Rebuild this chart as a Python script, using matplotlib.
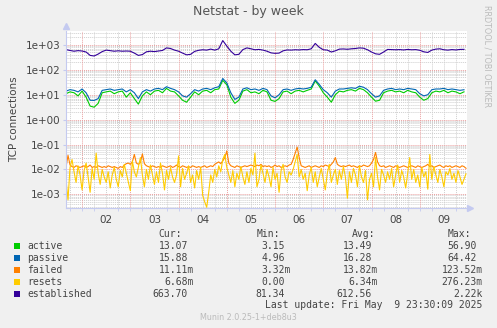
import numpy as np
import matplotlib.pyplot as plt
from matplotlib.patches import Rectangle

W, H = 497, 328

# TCP connection rates, 2-hourly samples starting May 1 16:00 (hours since May 1 00:00)
established = [650, 600, 560, 590, 570, 520, 380, 360, 430, 540,
               620, 590, 560, 580, 560, 570, 560, 470, 380, 410,
               530, 560, 540, 570, 600, 760, 720, 620, 560, 470,
               400, 420, 550, 610, 640, 620, 680, 620, 700, 1500,
               900, 560, 400, 420, 650, 760, 700, 640, 660, 620,
               560, 480, 460, 470, 580, 630, 620, 640, 630, 650,
               640, 700, 1150, 800, 640, 620, 520, 580, 680, 690,
               670, 700, 720, 760, 740, 640, 520, 440, 420, 520,
               660, 650, 640, 650, 630, 660, 640, 650, 610, 530,
               500, 620, 680, 700, 640, 620, 650, 630, 660, 663.70]

active = [11, 13, 12, 9, 14, 8, 3.5, 3.15, 4.5, 12,
          13, 14, 11, 13, 14, 8, 12, 7, 4.2, 9,
          13, 10, 14, 15, 12, 18, 14, 13, 9, 6,
          5, 8, 13, 10, 14, 15, 12, 16, 17, 38,
          25, 8, 4.5, 6, 14, 16, 12, 13, 11, 15,
          13, 6, 5.4, 7, 13, 14, 11, 14, 15, 13,
          15, 17, 36, 22, 12, 8, 5, 10, 14, 13,
          15, 16, 14, 18, 16, 12, 8, 5.5, 6, 12,
          14, 15, 13, 14, 12, 15, 13, 12, 8, 6,
          7, 12, 14, 13, 15, 12, 14, 13, 11, 13.07]

passive = [14, 16, 15, 13, 17, 12, 6, 5.9, 7, 15,
           16, 17, 15, 16, 17, 13, 16, 12, 7, 13,
           16, 14, 17, 18, 16, 21, 18, 16, 13, 9,
           8, 11, 16, 14, 17, 18, 16, 19, 21, 45,
           30, 12, 6.5, 8, 17, 19, 16, 17, 15, 18,
           16, 9, 7.5, 10, 16, 17, 15, 17, 18, 17,
           18, 20, 40, 26, 16, 12, 8, 14, 17, 17,
           18, 19, 18, 22, 20, 16, 11, 8, 9, 15,
           17, 18, 16, 17, 16, 18, 17, 16, 11, 9,
           10, 16, 17, 17, 18, 16, 17, 16, 15, 15.88]

# hourly samples, in milli
failed_m = [12, 37, 15, 13, 12, 14, 13, 12, 13, 14,
            12, 13, 15, 12, 13, 12, 14, 13, 12, 13,
            12, 14, 13, 12, 13, 12, 11, 13, 12, 15,
            17, 18, 16, 20, 40, 18, 16, 19, 42, 17,
            14, 13, 12, 14, 13, 12, 13, 12, 14, 13,
            12, 13, 14, 12, 13, 15, 13, 12, 14, 13,
            12, 13, 12, 14, 13, 12, 13, 12, 13, 14,
            12, 13, 14, 13, 16, 18, 20, 17, 22, 30,
            55, 18, 14, 13, 12, 14, 13, 12, 13, 14,
            13, 14, 15, 14, 13, 15, 14, 16, 13, 14,
            13, 14, 12, 13, 15, 13, 14, 12, 13, 14,
            13, 15, 16, 25, 45, 79, 30, 14, 13, 12,
            13, 14, 12, 13, 14, 13, 12, 14, 13, 15,
            14, 13, 16, 20, 30, 16, 14, 13, 14, 13,
            14, 15, 13, 14, 13, 12, 14, 13, 15, 14,
            13, 14, 18, 25, 48, 20, 14, 13, 14, 12,
            13, 14, 13, 12, 14, 13, 12, 13, 14, 13,
            12, 13, 14, 13, 12, 14, 13, 12, 13, 14,
            16, 13, 14, 12, 13, 14, 15, 13, 12, 14,
            13, 14, 12, 13, 14, 13, 12, 14, 13, 11.11]

resets_m = [4, 0.6, 12, 25, 8, 3, 14, 6, 1.5, 9,
            18, 5, 1.2, 11, 4, 45, 7, 2.5, 10, 5,
            3, 8, 1.8, 6, 12, 4, 2, 9, 5, 16,
            7, 3, 1.4, 22, 8, 5, 12, 30, 6, 2,
            10, 4, 15, 6, 2.5, 8, 3, 18, 7, 1.5,
            9, 4, 12, 5, 3, 6, 35, 2, 11, 4,
            7, 14, 3, 6, 1.8, 9, 4, 12, 0.9, 0.5,
            0.3, 1.2, 6, 3, 10, 5, 14, 8, 25, 40,
            12, 6, 3, 9, 2, 7, 4, 13, 5, 2.5,
            8, 3, 11, 6, 45, 2, 4, 15, 7, 3,
            10, 5, 2, 12, 4, 7, 1.2, 9, 16, 5,
            3, 8, 6, 10, 20, 40, 5, 10, 4, 7,
            1.4, 6, 12, 3, 8, 2, 5, 11, 4, 1.5,
            7, 16, 3, 6, 10, 2.5, 9, 4, 13, 5,
            0.7, 8, 3, 11, 6, 2, 14, 5, 3, 9,
            0.6, 4, 7, 2, 30, 5, 1.5, 10, 6, 3,
            8, 4, 11, 2, 6, 15, 3, 9, 5, 1.8,
            7, 30, 4, 10, 3, 6, 2, 12, 5, 8,
            1.6, 40, 4, 13, 6, 3, 10, 5, 2, 8,
            6, 11, 4, 7, 3, 9, 5, 2.5, 4, 6.68]

day_labels = ['02', '03', '04', '05', '06', '07', '08', '09']

names = ['active', 'passive', 'failed', 'resets', 'established']
colors = ['#00CC00', '#0066B3', '#FF8000', '#FFCC00', '#330099']
cur_txt = ['13.07', '15.88', '11.11m', '6.68m', '663.70']
min_txt = ['3.15', '4.96', '3.32m', '0.00', '81.34']
avg_txt = ['13.49', '16.28', '13.82m', '6.34m', '612.56']
max_txt = ['56.90', '64.42', '123.52m', '276.23m', '2.22k']

t2 = 16 + 2 * np.arange(len(established))
t1 = 16 + np.arange(len(failed_m))
series = [(t2, np.array(active)), (t2, np.array(passive)),
          (t1, np.array(failed_m) * 1e-3), (t1, np.array(resets_m) * 1e-3),
          (t2, np.array(established))]

txt = '#444444'
axcol = '#C4CAF0'
fig = plt.figure(figsize=(W / 100, H / 100), dpi=100, facecolor='#F0F0F0')
ax = fig.add_axes([66 / W, 1 - 208 / H, 401 / W, 177 / H])
ax.set_facecolor('white')
ax.set_yscale('log')
ax.set_xlim(16, 215.5)
ax.set_ylim(10 ** -3.55, 10 ** 3.56)

# grid: gray dotted every 6h / 2..9 per decade, red dotted at midnights / decades
dot = (0, (1, 1))
for h in range(18, 216, 6):
    if h % 24:
        ax.axvline(h, color='#CFCFCF', lw=0.7, ls=dot, zorder=0)
for d in range(-4, 4):
    for k in range(2, 10):
        ax.axhline(k * 10.0 ** d, color='#CFCFCF', lw=0.7, ls=dot, zorder=0)
for h in range(24, 216, 24):
    ax.axvline(h, color='#EBA0A0', lw=0.7, ls=dot, zorder=0)
for d in range(-3, 4):
    ax.axhline(10.0 ** d, color='#EBA0A0', lw=0.7, ls=dot, zorder=0)

for (t, v), c in zip(series, colors):
    ax.plot(t, v, color=c, lw=0.8, zorder=2)

for s in ['top', 'right']:
    ax.spines[s].set_visible(False)
for s in ['left', 'bottom']:
    ax.spines[s].set_color(axcol)
    ax.spines[s].set_linewidth(0.8)
ax.plot([0], [1.03], marker='^', ms=4, color=axcol, transform=ax.transAxes, clip_on=False)
ax.plot([1.008], [0], marker='>', ms=4, color=axcol, transform=ax.transAxes, clip_on=False)

ax.set_yticks([10.0 ** d for d in range(-3, 4)])
ax.set_yticklabels(['1e%+03d' % d for d in range(-3, 4)])
ax.yaxis.set_minor_locator(plt.NullLocator())
ax.set_xticks([36 + 24 * i for i in range(len(day_labels))])
ax.set_xticklabels(day_labels)
ax.set_xticks(range(18, 216, 6), minor=True)
ax.tick_params(axis='x', which='major', length=0, pad=5, labelsize=7.5, labelcolor=txt)
ax.tick_params(axis='x', which='minor', length=2, color=axcol)
ax.tick_params(axis='y', length=2, color=axcol, pad=2, labelsize=7.5, labelcolor=txt)
ax.set_ylabel('TCP connections', fontsize=7.5, color=txt, labelpad=5)

fig.text(0.5, 1 - 12 / H, 'Netstat - by week', ha='center', va='center', fontsize=9, color='#555555')
fig.text(487 / W, 1 - 56 / H, 'RRDTOOL / TOBI OETIKER', rotation=270, ha='center', va='center',
         fontsize=5.8, color='#BBBBBB')

mono = 'DejaVu Sans Mono'
fs = 7
char_w = 0.602 * fs * 100 / 72  # monospace advance in pixels


def ftext(x, y, s, **kw):
    fig.text(x / W, 1 - y / H, s, family=mono, fontsize=fs, color=txt, va='center', **kw)


for x, head in zip([158, 257, 352, 448], ['Cur:', 'Min:', 'Avg:', 'Max:']):
    ftext(x, 234, head, ha='left')

# numbers line up on their last digit, a unit letter hangs past it
num_right = [188, 285, 372, 477]
for i, name in enumerate(names):
    y = 245.7 + 12 * i
    fig.add_artist(Rectangle((14 / W, 1 - (y + 3) / H), 6 / W, 6 / H,
                             transform=fig.transFigure, color=colors[i], lw=0))
    ftext(27, y, name, ha='left')
    for xr, col in zip(num_right, [cur_txt, min_txt, avg_txt, max_txt]):
        s = col[i]
        if s[-1].isalpha():
            ftext(xr + char_w, y, s, ha='right')
        else:
            ftext(xr, y, s, ha='right')

ftext(482, 305.5, 'Last update: Fri May  9 23:30:09 2025', ha='right')
fig.text(248 / W, 1 - 318 / H, 'Munin 2.0.25-1+deb8u3', ha='center', va='center',
         fontsize=5.8, color='#BBBBBB')

fig.savefig('out.png', dpi=100, facecolor=fig.get_facecolor())
